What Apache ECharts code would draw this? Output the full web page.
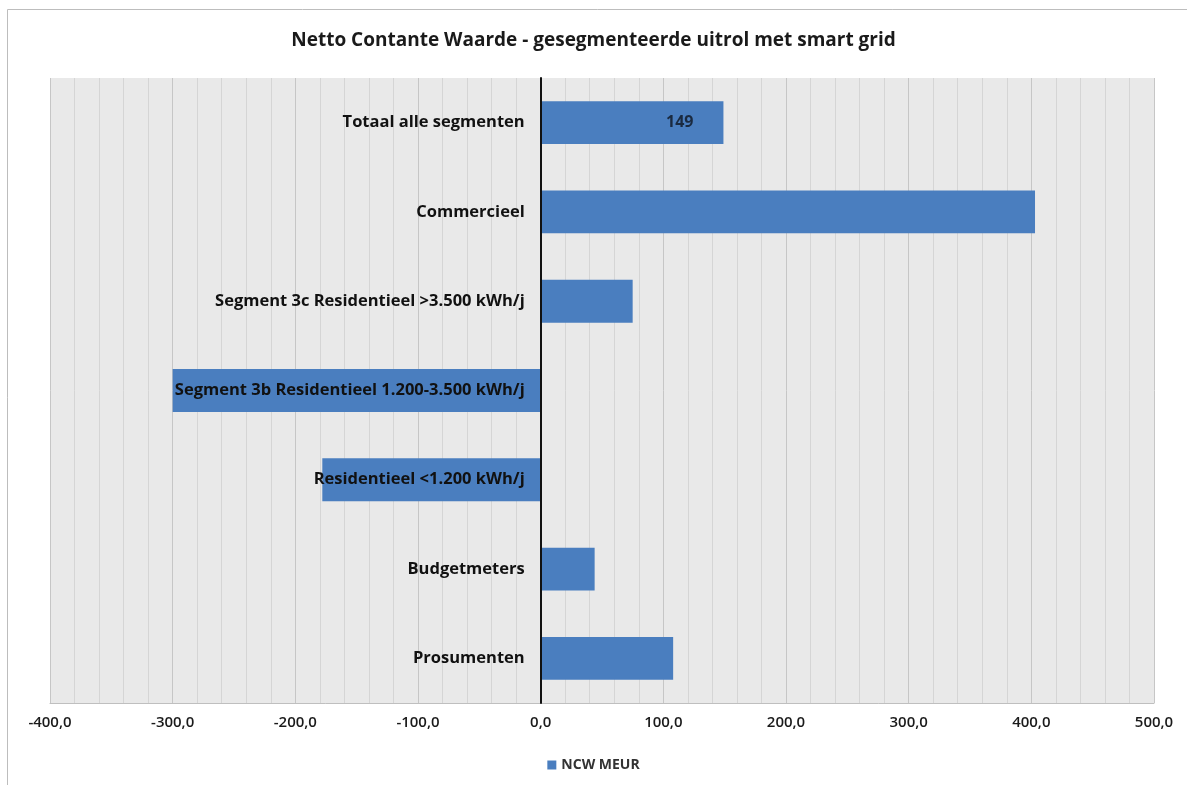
<!DOCTYPE html>
<html>
<head>
<meta charset="utf-8">
<script src="https://cdn.jsdelivr.net/npm/echarts@6/dist/echarts.min.js"></script>
<style>html,body{margin:0;padding:0;background:#fff}#c{width:1187px;height:785px}</style>
</head>
<body>
<div id="c"></div>
<script>
const categories = ["Totaal alle segmenten","Commercieel","Segment 3c Residentieel >3.500 kWh/j","Segment 3b Residentieel 1.200-3.500 kWh/j","Residentieel <1.200 kWh/j","Budgetmeters","Prosumenten"];
const values = [149, 403, 75, -300, -178, 44, 108];
const labelled = ["Totaal alle segmenten"];
const seriesName = "NCW MEUR";
const titleText = "Netto Contante Waarde - gesegmenteerde uitrol met smart grid";
const FONT = "'Open Sans', Lato, sans-serif";

const chart = echarts.init(document.getElementById('c'));
chart.setOption({
  animation: false,
  textStyle: {fontFamily: FONT},
  title: {text: titleText, left: 'center', top: 26,
    textStyle: {fontFamily: FONT, fontSize: 19, fontWeight: 'bold', color: '#1a1a1a'}},
  graphic: [{type: 'rect', shape: {x: 7.5, y: 9.5, width: 1200, height: 800},
    style: {fill: 'none', stroke: '#bdbdbd', lineWidth: 1}, silent: true, z: -1}],
  legend: {bottom: 8, left: 'center', itemWidth: 9, itemHeight: 9, icon: 'rect',
    textStyle: {fontFamily: FONT, fontSize: 14, fontWeight: 'bold', color: '#333'},
    data: [seriesName]},
  grid: {left: 50, right: 33, top: 78, bottom: 82, show: true, outerBoundsMode: 'none',
    backgroundColor: '#e9e9e9', borderWidth: 0, containLabel: false},
  xAxis: {type: 'value', min: -400, max: 500, interval: 100,
    axisLine: {show: true, onZero: false, lineStyle: {color: '#bfbfbf', width: 1}},
    axisTick: {show: false},
    axisLabel: {margin: 12, fontSize: 15, fontFamily: FONT, color: '#1a1a1a', fontWeight: 600,
      formatter: v => v.toFixed(1).replace('.', ',')},
    splitLine: {show: true, lineStyle: {color: '#c6c6c6', width: 1}},
    minorTick: {show: false, splitNumber: 5},
    minorSplitLine: {show: true, lineStyle: {color: '#d5d5d5', width: 1}}},
  yAxis: {type: 'category', data: categories, inverse: true, z: 10,
    axisLine: {show: true, onZero: true, lineStyle: {color: '#111', width: 2}},
    axisTick: {show: false},
    axisLabel: {show: false},
    splitLine: {show: false}},
  series: [{
    name: seriesName, type: 'bar', barCategoryGap: '52%',
    itemStyle: {color: '#4a7ebf'},
    data: values.map((v, i) => ({value: v,
      label: {show: labelled.includes(categories[i]), position: 'insideRight', distance: 30,
        fontSize: 16, fontWeight: 'bold', color: '#1a2a40', fontFamily: FONT,
        formatter: p => String(Math.round(p.value))}}))
  }, {
    name: 'categoryLabels', type: 'scatter', symbolSize: 0, z: 20, silent: true,
    itemStyle: {opacity: 1},
    data: categories.map(c => [0, c]),
    label: {show: true, position: 'left', distance: 16, fontSize: 16.5, fontWeight: 'bold',
      fontFamily: FONT, color: '#111', opacity: 1, formatter: p => p.value[1]}
  }]
});
</script>
</body>
</html>
